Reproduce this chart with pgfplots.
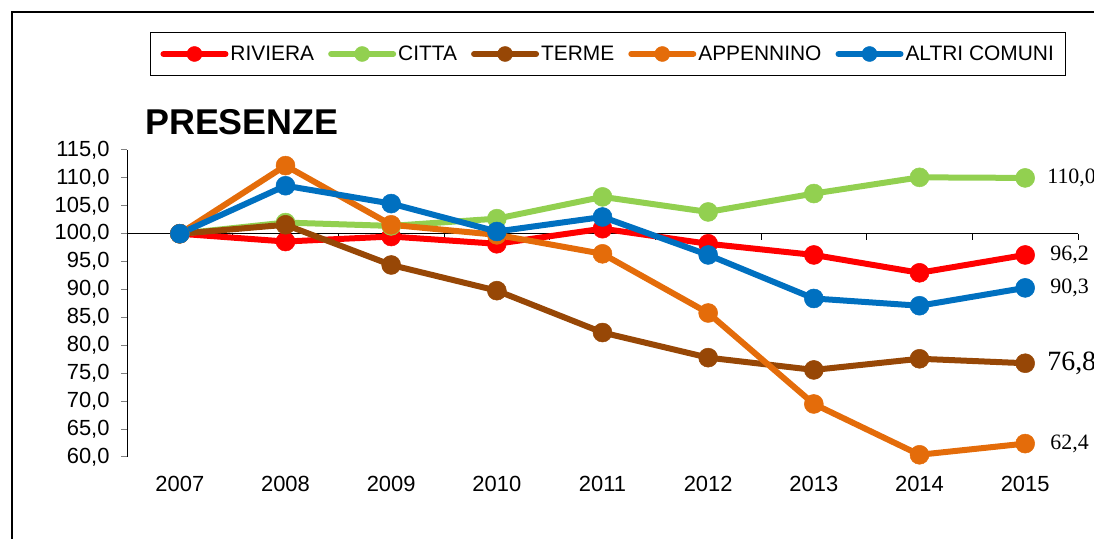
\documentclass[border=0pt]{standalone}
\usepackage{fontspec}
\setmainfont{Liberation Sans}
\newfontfamily\timesf{Liberation Serif}
\usepackage{pgfplots}
\pgfplotsset{compat=1.18}
\definecolor{riviera}{HTML}{FF0000}
\definecolor{citta}{HTML}{92D050}
\definecolor{terme}{HTML}{974706}
\definecolor{appennino}{HTML}{E46C0A}
\definecolor{altri}{HTML}{0070C0}

% x = 0..8 stands for the years 2007..2015
\begin{document}
\begin{tikzpicture}
\begin{axis}[
  at={(127bp,82bp)}, anchor=south west,
  scale only axis, width=951bp, height=307bp,
  xmin=-0.5, xmax=8.5, ymin=60, ymax=115,
  clip=false,
  axis x line*=bottom, axis y line*=left,
  x axis line style={draw=none},
  y axis line style={line width=1bp},
  xtick={0,...,8}, xtick style={draw=none},
  xticklabels={2007,2008,2009,2010,2011,2012,2013,2014,2015},
  ytick={60,65,...,115}, ytick style={line width=1bp},
  tick align=outside, major tick length=6bp,
  tick label style={font=\fontsize{22}{26}\selectfont},
  /pgf/number format/assume math mode=true,
  /pgf/number format/fixed, /pgf/number format/fixed zerofill,
  /pgf/number format/precision=1, /pgf/number format/use comma,
  yticklabel style={xshift=-8bp},
  xticklabel style={yshift=-10bp},
  every axis plot/.append style={line width=6bp, mark=*, mark size=9.5bp,
    line cap=round, line join=round},
  legend columns=5,
  legend style={at={(0.506,1.3127)}, anchor=center, draw=black, line width=1bp,
    font=\fontsize{21}{24}\selectfont, inner xsep=10bp, inner ysep=11bp,
    nodes={inner xsep=2bp},
    /tikz/every even column/.append style={column sep=12bp}},
  legend image code/.code={\draw[mark repeat=2,mark phase=2,mark size=7.5bp]
    plot coordinates {(0bp,0bp) (31bp,0bp) (62bp,0bp)};},
]
\draw[line width=1bp] (axis cs:-0.5,100) -- (axis cs:8.5,100);
\pgfplotsinvokeforeach{0.5,1.5,2.5,3.5,4.5,5.5,6.5,7.5,8.5}{
  \draw[line width=1bp] (axis cs:#1,100) -- (axis cs:#1,98.9);
}
\addplot[color=riviera, mark options={fill=riviera, line width=0.5bp}] coordinates {
  (0,100.0) (1,98.6) (2,99.5) (3,98.2) (4,100.9)
  (5,98.2) (6,96.2) (7,93.0) (8,96.2)};
\addlegendentry{RIVIERA}
\addplot[color=citta, mark options={fill=citta, line width=0.5bp}] coordinates {
  (0,100.0) (1,102.0) (2,101.4) (3,102.7) (4,106.6)
  (5,103.9) (6,107.2) (7,110.1) (8,110.0)};
\addlegendentry{CITTA}
\addplot[color=terme, mark options={fill=terme, line width=0.5bp}] coordinates {
  (0,100.0) (1,101.6) (2,94.4) (3,89.8) (4,82.3)
  (5,77.8) (6,75.6) (7,77.6) (8,76.8)};
\addlegendentry{TERME}
\addplot[color=appennino, mark options={fill=appennino, line width=0.5bp}] coordinates {
  (0,100.0) (1,112.2) (2,101.6) (3,99.8) (4,96.4)
  (5,85.8) (6,69.5) (7,60.4) (8,62.4)};
\addlegendentry{APPENNINO}
\addplot[color=altri, mark options={fill=altri, line width=0.5bp}] coordinates {
  (0,100.0) (1,108.6) (2,105.4) (3,100.4) (4,103.0)
  (5,96.2) (6,88.4) (7,87.1) (8,90.3)};
\addlegendentry{ALTRI COMUNI}
\node[anchor=west, inner sep=0pt, xshift=22bp, font=\timesf\fontsize{22}{24}\selectfont] at (axis cs:8,110.0) {110,0};
\node[anchor=west, inner sep=0pt, xshift=25bp, font=\timesf\fontsize{22}{24}\selectfont] at (axis cs:8,96.2) {96,2};
\node[anchor=west, inner sep=0pt, xshift=25bp, font=\timesf\fontsize{22}{24}\selectfont] at (axis cs:8,90.3) {90,3};
\node[anchor=west, inner sep=0pt, xshift=22bp, font=\timesf\fontsize{28}{30}\selectfont] at (axis cs:8,76.8) {76,8};
\node[anchor=west, inner sep=0pt, xshift=25bp, font=\timesf\fontsize{22}{24}\selectfont] at (axis cs:8,62.4) {62,4};
\end{axis}
\node[anchor=west, inner sep=0pt, font=\fontsize{36}{40}\selectfont\bfseries] at (145bp,417bp) {PRESENZE};
\draw[line width=2.5bp] (12bp,-20bp) -- (12bp,527bp) -- (1120bp,527bp);
\pgfresetboundingbox
\useasboundingbox (0,0) rectangle (1094bp,539bp);
\end{tikzpicture}
\end{document}
